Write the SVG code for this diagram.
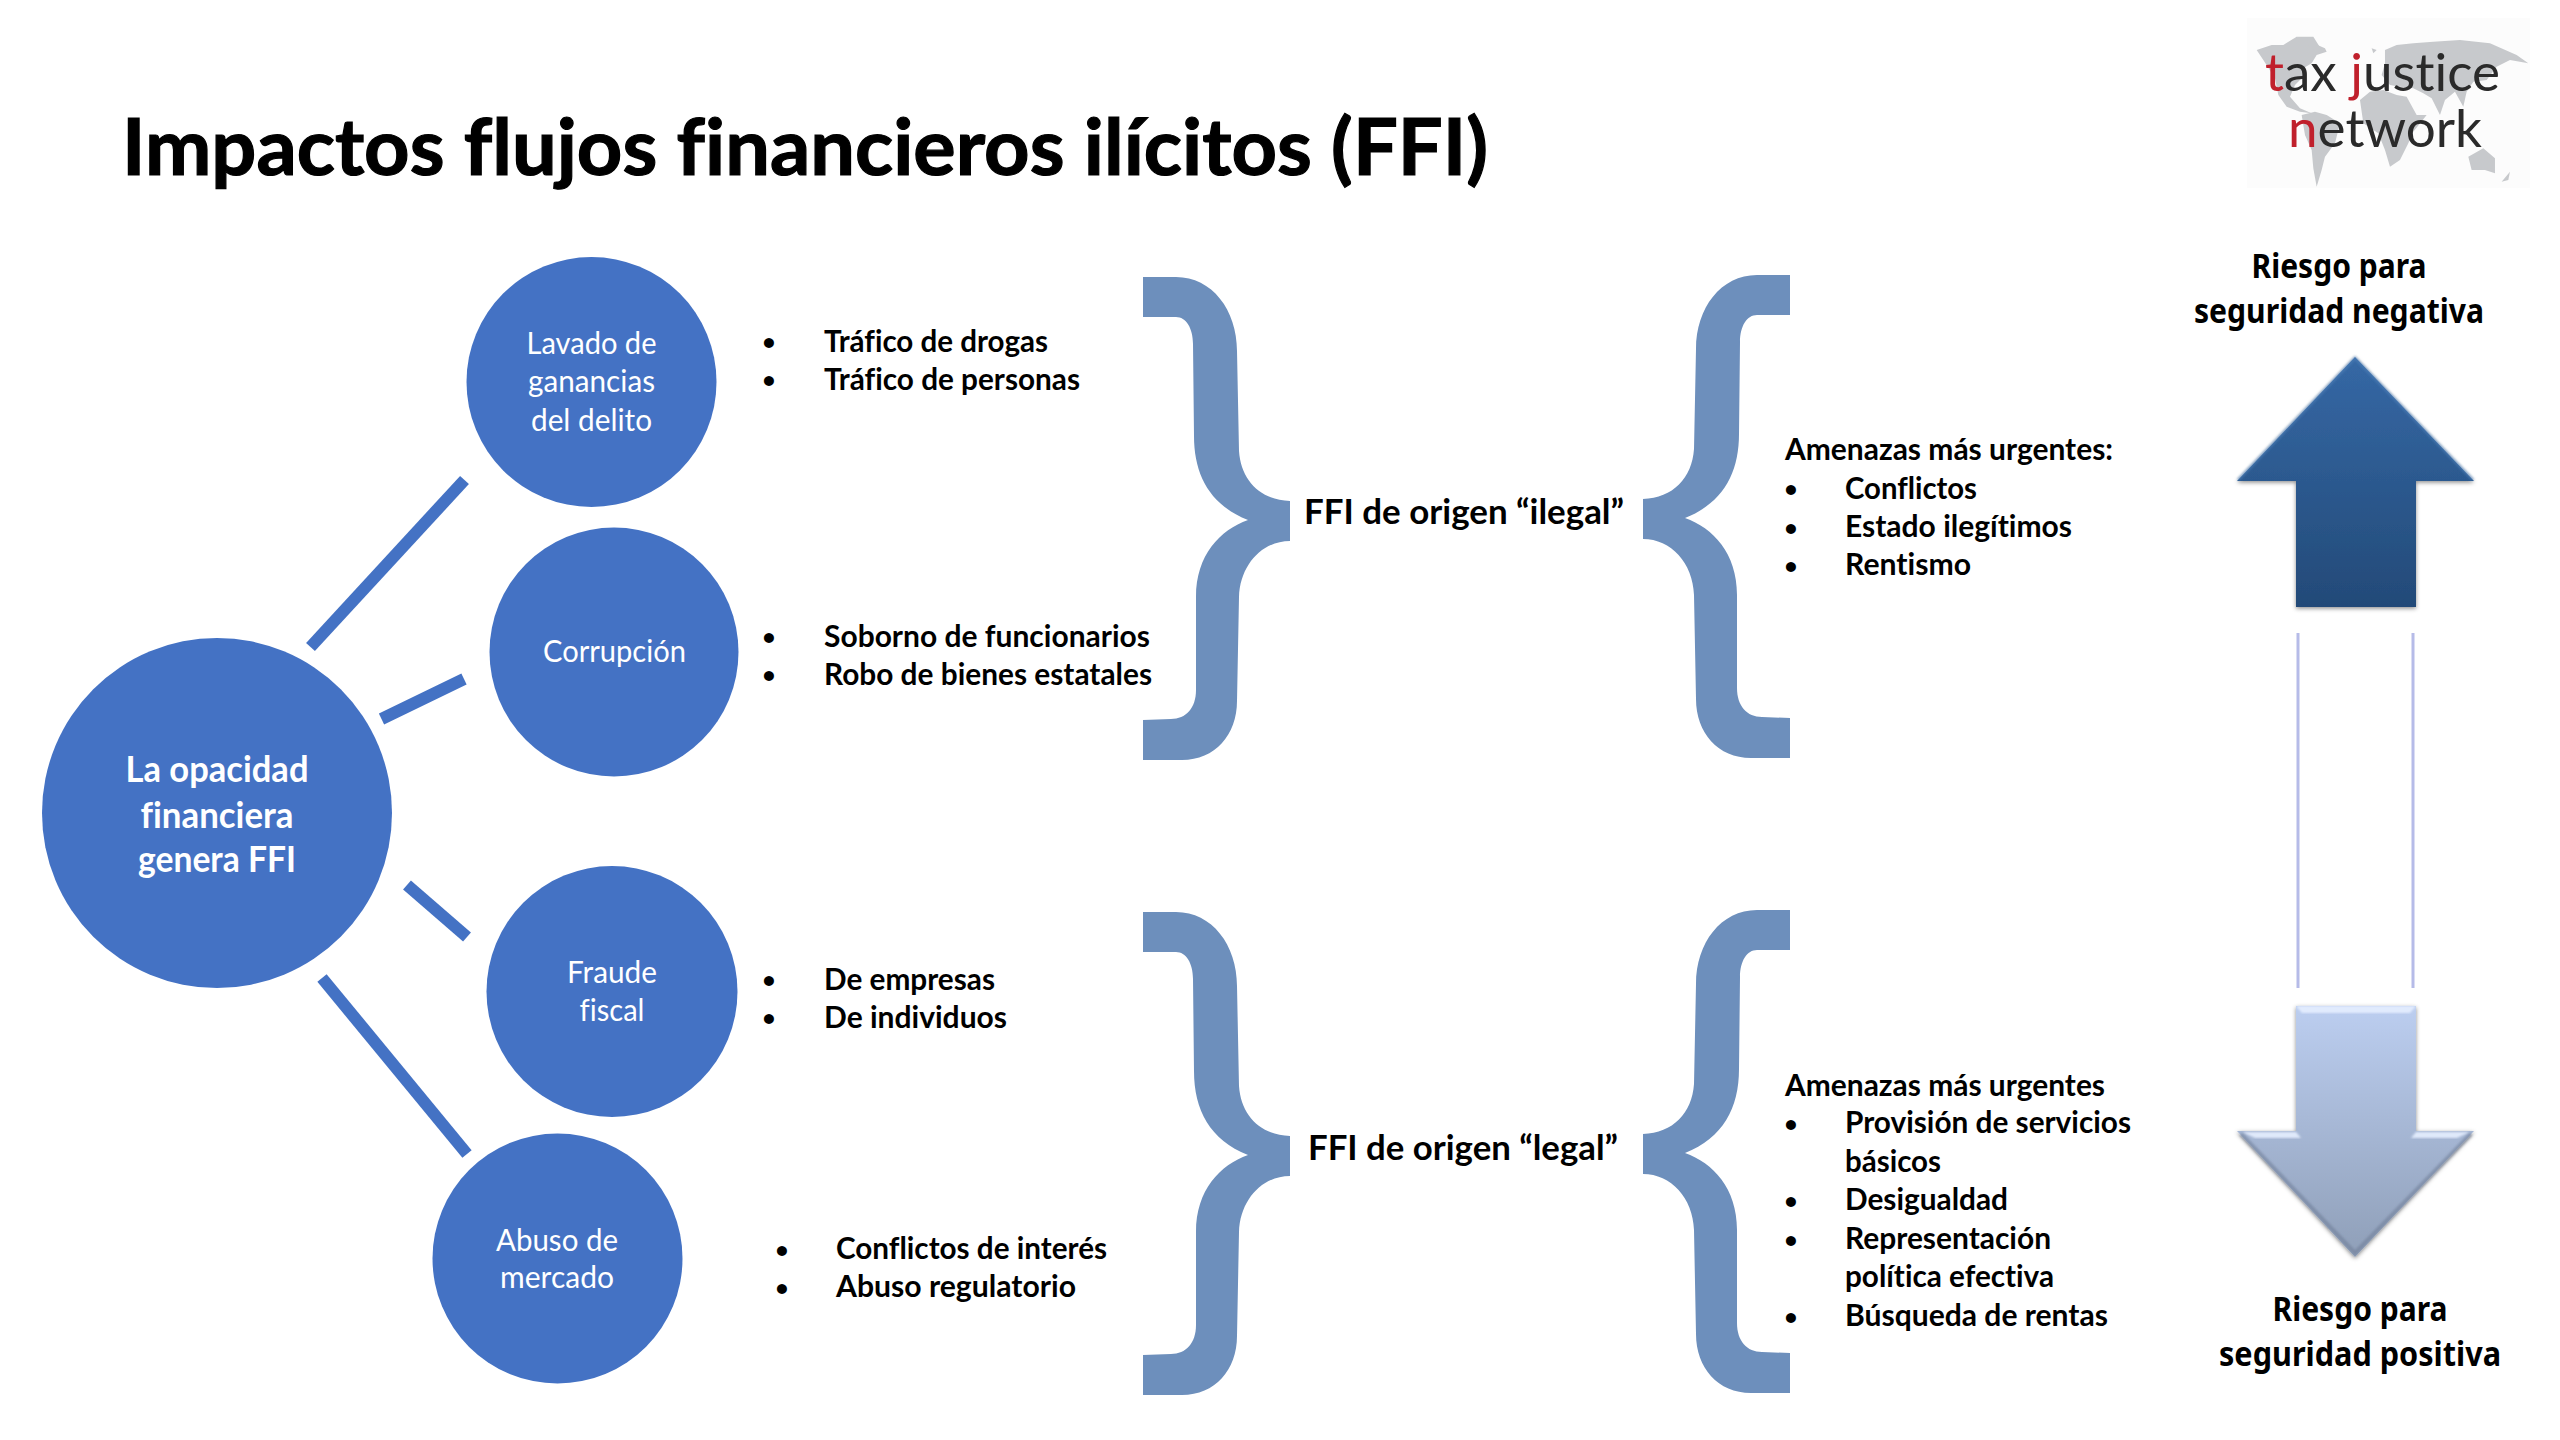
<svg xmlns="http://www.w3.org/2000/svg" xmlns:xlink="http://www.w3.org/1999/xlink" width="2560" height="1440" viewBox="0 0 2560 1440">
<style>
text{font-family:Lato,"Liberation Sans",sans-serif;fill:#000;font-variant-ligatures:none}
.t{font-size:79px;font-weight:700;stroke:#000;stroke-width:1.2px}
.i{font-size:31px;font-weight:700}
.d{font-size:23px;font-weight:700;text-anchor:middle}
.h{font-size:35px;font-weight:700}
.n{font-size:31px;fill:#fff;text-anchor:middle}
.m{font-size:36px;font-weight:700;fill:#fff;text-anchor:middle}
.r{font-size:34px;font-weight:700;text-anchor:middle;font-family:"Noto Sans","Open Sans",sans-serif}
.c{fill:#4472c4}
.br{fill:#6d8fbc}
.lk{stroke:#4472c4;stroke-width:12;fill:none}
.v{stroke:#b6bbe8;stroke-width:3;fill:none}
.lg{font-size:53px;font-weight:400;fill:#2a2a2a}
.red{fill:#c0202c}
.map{fill:#c7c9cc}
</style>
<defs>
<path id="brace" d="M1143 277 L1176 277 C1212 277 1237 310 1237 351 L1239 451 C1241 480 1260 500 1290 501 L1290 541 C1262 541 1240 565 1239 597 L1237 701 C1237 735 1215 760 1182 760 L1143 760 L1143 720 L1171 719 C1186 719 1196 708 1196 690 L1196 597 C1196 555 1220 530 1248 520 C1210 505 1194 475 1194 436 L1193 344 C1193 328 1186 317 1176 317 L1143 317 Z"/>
<linearGradient id="gu" gradientUnits="userSpaceOnUse" x1="0" y1="357" x2="0" y2="607"><stop offset="0" stop-color="#3568a5"/><stop offset="1" stop-color="#234a78"/></linearGradient>
<linearGradient id="gd" gradientUnits="userSpaceOnUse" x1="0" y1="1006" x2="0" y2="1257"><stop offset="0" stop-color="#bccef0"/><stop offset="1" stop-color="#8f9fb8"/></linearGradient>
<filter id="sh" x="-10%" y="-10%" width="120%" height="120%"><feDropShadow dx="0" dy="1.5" stdDeviation="2.2" flood-color="#000" flood-opacity=".45"/></filter>
<filter id="bl" x="-10%" y="-10%" width="120%" height="120%"><feGaussianBlur stdDeviation="1.2"/></filter>
</defs>
<rect width="2560" height="1440" fill="#fff"/>

<text class="t" x="122" y="175" textLength="1366" lengthAdjust="spacingAndGlyphs">Impactos flujos financieros ilícitos (FFI)</text>

<g id="logo">
<rect x="2247" y="18" width="283" height="170" fill="#fcfcfc"/>
<g transform="translate(2200 0) scale(.3333)" class="map">
<polygon points="170,150 215,135 250,135 290,110 330,125 375,145 380,155 350,165 335,190 310,205 305,235 285,255 270,290 300,325 335,340 300,335 260,320 235,285 225,235 190,180"/>
<polygon points="305,345 345,335 380,345 420,370 405,430 375,470 365,510 350,560 340,505 335,450 315,405"/>
<polygon points="555,150 590,135 640,130 700,125 780,120 870,130 950,165 985,190 930,180 890,200 860,240 820,245 800,275 790,320 765,275 735,300 720,345 695,295 670,280 640,265 600,260 570,255 545,225 555,190"/>
<polygon points="480,300 510,275 550,270 590,285 620,290 650,345 680,345 640,395 625,430 600,480 570,500 555,450 535,400 490,370"/>
<polygon points="805,470 850,445 885,475 885,520 855,510 815,510"/>
<polygon points="905,545 930,515 925,540"/>
<polygon points="515,145 530,150 520,160"/>
<polygon points="290,110 340,110 365,150 340,150"/>
</g>
<text class="lg" x="2265" y="91"><tspan class="red">t</tspan>ax <tspan class="red">j</tspan>ustice</text>
<text class="lg" x="2288" y="147"><tspan class="red">n</tspan>etwork</text>
</g>

<g id="connectors">
<line class="lk" x1="464.5" y1="480" x2="310.5" y2="647"/>
<line class="lk" x1="464" y1="679" x2="381.5" y2="719"/>
<line class="lk" x1="407" y1="885" x2="467" y2="937"/>
<line class="lk" x1="322" y1="978" x2="467" y2="1154"/>
</g>

<g id="node-opacidad">
<circle class="c" cx="217" cy="813" r="175"/>
<text class="m" x="217" y="782" textLength="183" lengthAdjust="spacingAndGlyphs">La opacidad</text>
<text class="m" x="217" y="828" textLength="153" lengthAdjust="spacingAndGlyphs">financiera</text>
<text class="m" x="217" y="872" textLength="158" lengthAdjust="spacingAndGlyphs">genera FFI</text>
</g>
<g id="node-lavado">
<circle class="c" cx="591.5" cy="382" r="125"/>
<text class="n" x="591.5" y="354" textLength="130" lengthAdjust="spacingAndGlyphs">Lavado de</text>
<text class="n" x="591.5" y="392" textLength="127" lengthAdjust="spacingAndGlyphs">ganancias</text>
<text class="n" x="591.5" y="431" textLength="121" lengthAdjust="spacingAndGlyphs">del delito</text>
</g>
<g id="node-corrupcion">
<circle class="c" cx="614" cy="652" r="124.5"/>
<text class="n" x="614.5" y="662" textLength="143" lengthAdjust="spacingAndGlyphs">Corrupción</text>
</g>
<g id="node-fraude">
<circle class="c" cx="612" cy="991.5" r="125.5"/>
<text class="n" x="612" y="983" textLength="90" lengthAdjust="spacingAndGlyphs">Fraude</text>
<text class="n" x="612" y="1021" textLength="65" lengthAdjust="spacingAndGlyphs">fiscal</text>
</g>
<g id="node-abuso">
<circle class="c" cx="557.5" cy="1258.5" r="125"/>
<text class="n" x="557" y="1251" textLength="122" lengthAdjust="spacingAndGlyphs">Abuso de</text>
<text class="n" x="557" y="1288" textLength="114" lengthAdjust="spacingAndGlyphs">mercado</text>
</g>

<g id="list-lavado">
<text class="d" x="769" y="350">•</text><text class="i" x="824" y="352" textLength="224" lengthAdjust="spacingAndGlyphs">Tráfico de drogas</text>
<text class="d" x="769" y="388">•</text><text class="i" x="824" y="390" textLength="256" lengthAdjust="spacingAndGlyphs">Tráfico de personas</text>
</g>
<g id="list-corrupcion">
<text class="d" x="769" y="645">•</text><text class="i" x="824" y="647" textLength="326" lengthAdjust="spacingAndGlyphs">Soborno de funcionarios</text>
<text class="d" x="769" y="683">•</text><text class="i" x="824" y="685" textLength="328" lengthAdjust="spacingAndGlyphs">Robo de bienes estatales</text>
</g>
<g id="list-fraude">
<text class="d" x="769" y="988">•</text><text class="i" x="824" y="990" textLength="171" lengthAdjust="spacingAndGlyphs">De empresas</text>
<text class="d" x="769" y="1026">•</text><text class="i" x="824" y="1028" textLength="183" lengthAdjust="spacingAndGlyphs">De individuos</text>
</g>
<g id="list-abuso">
<text class="d" x="782" y="1258">•</text><text class="i" x="836" y="1259" textLength="271" lengthAdjust="spacingAndGlyphs">Conflictos de interés</text>
<text class="d" x="782" y="1296">•</text><text class="i" x="836" y="1297" textLength="240" lengthAdjust="spacingAndGlyphs">Abuso regulatorio</text>
</g>

<g id="braces" class="br">
<use xlink:href="#brace" href="#brace"/>
<use xlink:href="#brace" href="#brace" transform="translate(2933 -2) scale(-1 1)"/>
<use xlink:href="#brace" href="#brace" transform="translate(0 635)"/>
<use xlink:href="#brace" href="#brace" transform="translate(2933 633) scale(-1 1)"/>
</g>

<g id="node-ilegal"><text class="h" x="1304" y="524" textLength="320" lengthAdjust="spacingAndGlyphs">FFI de origen “ilegal”</text></g>
<g id="node-legal"><text class="h" x="1308" y="1160" textLength="310" lengthAdjust="spacingAndGlyphs">FFI de origen “legal”</text></g>

<g id="list-amenazas-ilegal">
<text class="i" x="1785" y="460" textLength="328" lengthAdjust="spacingAndGlyphs">Amenazas más urgentes:</text>
<text class="d" x="1791" y="497">•</text><text class="i" x="1845" y="499" textLength="132" lengthAdjust="spacingAndGlyphs">Conflictos</text>
<text class="d" x="1791" y="536">•</text><text class="i" x="1845" y="537" textLength="227" lengthAdjust="spacingAndGlyphs">Estado ilegítimos</text>
<text class="d" x="1791" y="574">•</text><text class="i" x="1845" y="575" textLength="126" lengthAdjust="spacingAndGlyphs">Rentismo</text>
</g>
<g id="list-amenazas-legal">
<text class="i" x="1785" y="1096" textLength="320" lengthAdjust="spacingAndGlyphs">Amenazas más urgentes</text>
<text class="d" x="1791" y="1132">•</text><text class="i" x="1845" y="1133" textLength="286" lengthAdjust="spacingAndGlyphs">Provisión de servicios</text>
<text class="i" x="1845" y="1172" textLength="96" lengthAdjust="spacingAndGlyphs">básicos</text>
<text class="d" x="1791" y="1209">•</text><text class="i" x="1845" y="1210" textLength="163" lengthAdjust="spacingAndGlyphs">Desigualdad</text>
<text class="d" x="1791" y="1248">•</text><text class="i" x="1845" y="1249" textLength="206" lengthAdjust="spacingAndGlyphs">Representación</text>
<text class="i" x="1845" y="1287" textLength="209" lengthAdjust="spacingAndGlyphs">política efectiva</text>
<text class="d" x="1791" y="1325">•</text><text class="i" x="1845" y="1326" textLength="263" lengthAdjust="spacingAndGlyphs">Búsqueda de rentas</text>
</g>

<g id="node-riesgo-negativa">
<text class="r" x="2339" y="278" textLength="175" lengthAdjust="spacingAndGlyphs">Riesgo para</text>
<text class="r" x="2339" y="323" textLength="290" lengthAdjust="spacingAndGlyphs">seguridad negativa</text>
</g>
<g id="arrow-up">
<polygon points="2355,357 2474,481 2416,481 2416,607 2296,607 2296,481 2237,481" fill="url(#gu)" filter="url(#sh)"/>
<polyline points="2238,480 2355,358 2473,480" fill="none" stroke="#4f80b8" stroke-width="3" opacity=".6" filter="url(#bl)"/>
</g>
<g id="range-lines">
<line class="v" x1="2298" y1="633" x2="2298" y2="988"/>
<line class="v" x1="2413" y1="633" x2="2413" y2="988"/>
</g>
<g id="arrow-down">
<polygon points="2296,1006 2416,1006 2416,1131 2474,1131 2355,1257 2237,1131 2296,1131" fill="url(#gd)" filter="url(#sh)"/>
<polygon points="2296,1006 2416,1006 2410,1013 2302,1013" fill="#e6efff" opacity=".9" filter="url(#bl)"/>
<polygon points="2242,1132 2296,1132 2301,1138 2255,1138" fill="#e6efff" opacity=".9" filter="url(#bl)"/>
<polygon points="2416,1132 2470,1132 2457,1138 2411,1138" fill="#e6efff" opacity=".9" filter="url(#bl)"/>
<line x1="2298" y1="1013" x2="2298" y2="1130" stroke="#7f8ca6" stroke-width="3" opacity=".5" filter="url(#bl)"/>
<line x1="2414" y1="1013" x2="2414" y2="1130" stroke="#7f8ca6" stroke-width="3" opacity=".6" filter="url(#bl)"/>
<polyline points="2241,1134 2355,1253 2471,1134" fill="none" stroke="#6d7b95" stroke-width="4" opacity=".55" filter="url(#bl)"/>
</g>
<g id="node-riesgo-positiva">
<text class="r" x="2360" y="1321" textLength="175" lengthAdjust="spacingAndGlyphs">Riesgo para</text>
<text class="r" x="2360" y="1366" textLength="282" lengthAdjust="spacingAndGlyphs">seguridad positiva</text>
</g>
</svg>
